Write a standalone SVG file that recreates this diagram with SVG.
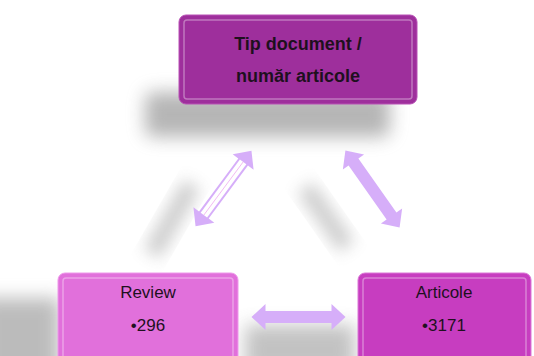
<svg xmlns="http://www.w3.org/2000/svg" width="534" height="356" viewBox="0 0 534 356">
<style>
.t{font-family:"Liberation Sans",Arial,sans-serif;fill:#1e101e;text-anchor:middle}
.b{font-weight:bold;font-size:18px}
.r{font-size:17px}
.bev{fill:none;stroke:#ffffff;stroke-opacity:0.35;stroke-width:1.5}
</style>
<defs>
<filter id="blur" x="-50%" y="-50%" width="200%" height="200%"><feGaussianBlur stdDeviation="9"/></filter>
<filter id="blur2" x="-50%" y="-50%" width="200%" height="200%"><feGaussianBlur stdDeviation="8"/></filter>
<polygon id="dbl" points="-47,0 -33,-13 -33,-6 33,-6 33,-13 47,0 33,13 33,6 -33,6 -33,13"/>
</defs>
<rect width="534" height="356" fill="#ffffff"/>
<g id="shadows" fill="#7a7a7a">
<rect x="145" y="92" width="245" height="45" rx="8" filter="url(#blur)" opacity="0.55"/>
<rect x="-20" y="298" width="80" height="80" filter="url(#blur)" opacity="0.5"/>
<rect x="-40" y="-9" width="80" height="18" transform="translate(172,219) rotate(-60)" filter="url(#blur2)" opacity="0.38"/>
<rect x="-36" y="-9" width="72" height="18" transform="translate(326,217) rotate(55)" filter="url(#blur2)" opacity="0.38"/>
<rect x="245" y="325" width="110" height="50" filter="url(#blur)" opacity="0.45"/>
</g>
<g id="connectors">
<g transform="translate(223.5,188.5) rotate(-53.5)">
<use href="#dbl" fill="#d6aef9"/>
<rect x="-33" y="-4" width="66" height="8" fill="#ffffff"/>
<line x1="-33" y1="0" x2="33" y2="0" stroke="#f0b0f0" stroke-width="0.8"/>
</g>
<g transform="translate(372.5,189) rotate(54.8)">
<use href="#dbl" fill="#d6aef9"/>
</g>
<g transform="translate(298.5,317)">
<use href="#dbl" fill="#d6aef9"/>
</g>
</g>
<g id="node-top">
<rect x="179" y="15" width="238" height="89" rx="7" fill="#9e2f9c" stroke="#b850b5" stroke-width="1"/>
<rect x="184" y="20" width="228" height="79" rx="3" class="bev"/>
<text class="t b" x="298" y="50">Tip document /</text>
<text class="t b" x="298" y="82">număr articole</text>
</g>
<g id="node-review">
<rect x="58" y="273" width="180" height="95" rx="7" fill="#e170db" stroke="#ee98ea" stroke-width="1"/>
<rect x="63" y="278" width="170" height="85" rx="3" class="bev"/>
<text class="t r" x="148" y="298">Review</text>
<text class="t r" x="148" y="331">•296</text>
</g>
<g id="node-articole">
<rect x="358" y="273" width="173" height="95" rx="7" fill="#c73dc0" stroke="#db78d6" stroke-width="1"/>
<rect x="363" y="278" width="163" height="85" rx="3" class="bev"/>
<text class="t r" x="444" y="298">Articole</text>
<text class="t r" x="444" y="331">•3171</text>
</g>
</svg>
